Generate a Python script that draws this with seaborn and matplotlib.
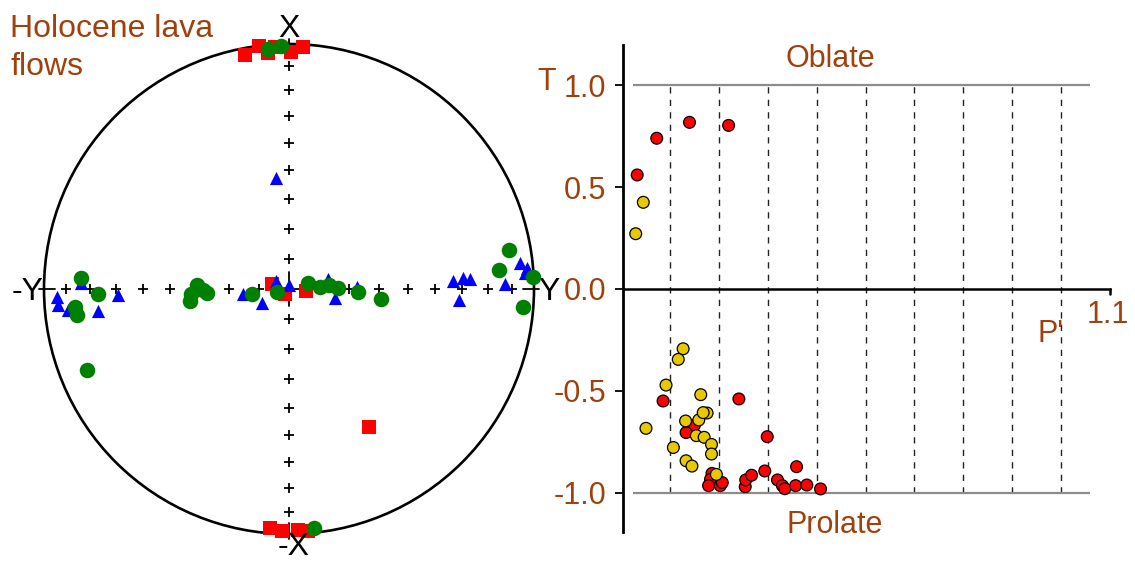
import numpy as np
import pandas as pd
import matplotlib
matplotlib.use("Agg")
import matplotlib.pyplot as plt
from matplotlib.patches import Circle
import seaborn as sns

# ---------------------------------------------------------------
# Principal susceptibility axes (trend / plunge, degrees)
# K1 = maximum, K2 = intermediate, K3 = minimum
# ---------------------------------------------------------------
k1_trend = [349.4, 353.0, 354.9, 0.5, 3.3, 356.7, 184.5, 181.7, 177.9, 175.5,
            286.4, 218.7, 96.7, 149.9]
k1_plunge = [3.2, 0.1, 3.7, 3.7, 1.3, 1.3, 2.4, 1.4, 1.8, 1.0,
             84.1, 87.9, 84.3, 35.2]

k2_trend = [268.0, 266.0, 264.6, 263.4, 268.0, 271.7, 263.8, 242.6, 301.6, 0.0,
            101.1, 75.6, 88.3, 353.3, 87.2, 86.4, 86.8, 93.7, 88.7, 83.6, 85.0, 86.1]
k2_plunge = [5.9, 6.1, 10.3, 22.6, 30.8, 16.2, 74.6, 79.9, 85.0, 88.7,
             74.4, 76.7, 67.4, 52.4, 33.4, 29.6, 26.9, 31.1, 12.8, 5.7, 2.8, 3.9]

k3_trend = [355.0, 358.1, 174.0, 273.0, 268.5, 265.2, 263.0, 248.1, 272.5, 267.1,
            263.1, 267.2, 269.3, 262.3, 256.0, 72.5, 86.3, 84.3, 88.8, 92.5,
            96.2, 79.9, 84.8, 87.2, 94.4]
k3_plunge = [1.9, 0.9, 2.2, 16.0, 23.0, 13.4, 13.9, 12.2, 59.2, 57.1,
             56.5, 62.6, 61.3, 77.6, 85.9, 83.4, 79.7, 76.7, 73.7, 67.0,
             59.0, 9.7, 15.0, 0.3, 4.7]

# Plunge rings marked on the net axes
ring_plunges = [10, 20, 30, 40, 50, 60, 70, 80]

# ---------------------------------------------------------------
# Shape parameter T versus corrected anisotropy degree P'
# ---------------------------------------------------------------
red_pj = [1.0033, 1.0073, 1.0140, 1.0220, 1.0086, 1.0241, 1.0150, 1.0133, 1.0299,
          1.0186, 1.0183, 1.0179, 1.0203, 1.0207, 1.0254, 1.0255, 1.0267, 1.0294,
          1.0320, 1.0330, 1.0335, 1.0357, 1.0359, 1.0380, 1.0408]
red_t = [0.559, 0.739, 0.817, 0.802, -0.549, -0.539, -0.668, -0.704, -0.724,
         -0.904, -0.933, -0.964, -0.964, -0.949, -0.969, -0.936, -0.913, -0.892,
         -0.936, -0.964, -0.979, -0.964, -0.871, -0.961, -0.980]
gold_pj = [1.00455, 1.0030, 1.0127, 1.0117, 1.0092, 1.0163, 1.0051, 1.0132, 1.0159,
           1.0176, 1.0168, 1.0154, 1.0170, 1.0185, 1.0185, 1.0107, 1.0133, 1.0145,
           1.0195]
gold_t = [0.425, 0.271, -0.293, -0.345, -0.471, -0.518, -0.683, -0.647, -0.642,
          -0.608, -0.606, -0.719, -0.727, -0.762, -0.809, -0.777, -0.842, -0.868,
          -0.909]

t_ticks = [1.0, 0.5, 0.0, -0.5, -1.0]
t_tick_labels = ["1.0", "0.5", "0.0", "-0.5", "-1.0"]
pj_grid = [1.01, 1.02, 1.03, 1.04, 1.05, 1.06, 1.07, 1.08, 1.09]

BROWN = "#A0410D"


def equal_area(trend, plunge):
    """Lower-hemisphere equal-area (Schmidt) projection, unit primitive circle."""
    t = np.radians(np.asarray(trend, dtype=float))
    p = np.radians(np.asarray(plunge, dtype=float))
    r = np.sqrt(2.0) * np.sin((np.pi / 2 - p) / 2)
    return r * np.sin(t), r * np.cos(t)


def axes_frame(trend, plunge, name):
    x, y = equal_area(trend, plunge)
    return pd.DataFrame({"x": x, "y": y, "axis": name})


sns.set_style("white")
plt.rcParams["font.family"] = ["Liberation Sans", "DejaVu Sans"]

fig = plt.figure(figsize=(11.35, 5.61), dpi=100)

# ---------------------------- stereonet ----------------------------
ax1 = fig.add_axes([7.25 / 1135, 2.5 / 561, 563.5 / 1135, 539 / 561])
ax1.set_xlim(-1.15, 1.15)
ax1.set_ylim(-1.1, 1.1)
ax1.axis("off")

ax1.add_patch(Circle((0, 0), 1.0, fill=False, lw=1.9, color="black", zorder=2))

# ring marks along the four axes
ring_r = np.sqrt(2.0) * np.sin(np.radians(90 - np.asarray(ring_plunges)) / 2)
cx = np.concatenate([ring_r, -ring_r, np.zeros_like(ring_r), np.zeros_like(ring_r)])
cy = np.concatenate([np.zeros_like(ring_r), np.zeros_like(ring_r), ring_r, -ring_r])
ax1.plot(cx, cy, ls="none", marker="+", ms=7, mew=1.3, color="black", zorder=1)
# centre cross and axis end ticks
ax1.plot([-0.07, 0.07], [0, 0], color="black", lw=1.3, zorder=1)
ax1.plot([0, 0], [-0.07, 0.07], color="black", lw=1.3, zorder=1)
for sx, sy in [(1, 0), (-1, 0), (0, 1), (0, -1)]:
    ax1.plot([0.955 * sx, 1.02 * sx], [0.955 * sy, 1.02 * sy], color="black", lw=1.3, zorder=1)

k1 = axes_frame(k1_trend, k1_plunge, "K1")
k2 = axes_frame(k2_trend, k2_plunge, "K2")
k3 = axes_frame(k3_trend, k3_plunge, "K3")
sns.scatterplot(data=k1, x="x", y="y", marker="s", s=95, color="#FF0000",
                linewidth=0, ax=ax1, zorder=3, legend=False)
sns.scatterplot(data=k2, x="x", y="y", marker="^", s=90, color="#0000FF",
                linewidth=0, ax=ax1, zorder=4, legend=False)
sns.scatterplot(data=k3, x="x", y="y", marker="o", s=125, color="#008000",
                linewidth=0, ax=ax1, zorder=5, legend=False)
ax1.set_xlabel("")
ax1.set_ylabel("")

lab = dict(fontsize=23, color="black", va="baseline", ha="center")
ax1.text(0.0, 1.029, "X", **lab)
ax1.text(0.02, -1.084, "-X", **lab)
ax1.text(1.063, -0.045, "Y", **lab)
ax1.text(-1.069, -0.045, "-Y", **lab)

fig.text(10 / 1135, 1 - 37 / 561, "Holocene lava", fontsize=23, color=BROWN,
         ha="left", va="baseline")
fig.text(10 / 1135, 1 - 75 / 561, "flows", fontsize=23, color=BROWN,
         ha="left", va="baseline")

# ---------------------------- T - P' plot ----------------------------
ax2 = fig.add_axes([623 / 1135, 29 / 561, 487 / 1135, 487 / 561])
ax2.set_xlim(1.0004, 1.1)
ax2.set_ylim(-1.1912, 1.1961)

ax2.vlines(pj_grid, -1, 1, colors="#222222", lw=1.0, linestyles=(0, (4.5, 4.5)), zorder=1)
ax2.hlines([1, -1], 1.0025, 1.096, colors="#8C8C8C", lw=1.6, zorder=1)

shape = pd.concat([
    pd.DataFrame({"pj": red_pj, "t": red_t, "flow": "red"}),
    pd.DataFrame({"pj": gold_pj, "t": gold_t, "flow": "gold"}),
], ignore_index=True)
sns.scatterplot(data=shape, x="pj", y="t", hue="flow",
                palette={"red": "#FF0000", "gold": "#E8C800"},
                s=72, edgecolor="black", linewidth=0.9, ax=ax2, zorder=3, legend=False)
ax2.set_xlabel("")
ax2.set_ylabel("")

for side in ["top", "right"]:
    ax2.spines[side].set_visible(False)
ax2.spines["left"].set_linewidth(2.0)
ax2.spines["left"].set_color("black")
ax2.spines["bottom"].set_position(("data", 0))
ax2.spines["bottom"].set_linewidth(1.8)
ax2.spines["bottom"].set_color("black")
ax2.plot([1.1, 1.1], [0, -0.025], color="black", lw=1.8, clip_on=False)

ax2.set_xticks([])
ax2.set_yticks(t_ticks)
ax2.set_yticklabels(t_tick_labels)
ax2.tick_params(axis="y", direction="out", length=6, width=1.3, pad=6,
                labelsize=22, labelcolor=BROWN, color="black", left=True)

txt = dict(fontsize=22, color=BROWN, va="baseline", clip_on=False)
ax2.text(0.9847, 0.975, "T", ha="center", **txt)
ax2.text(1.0429, 1.088, "Oblate", ha="center", **txt)
ax2.text(1.0437, -1.196, "Prolate", ha="center", **txt)
ax2.text(1.0878, -0.26, "P'", ha="center", **txt)
ax2.text(1.0953, -0.167, "1.1", ha="left", **txt)

fig.savefig("out.png", dpi=100)
